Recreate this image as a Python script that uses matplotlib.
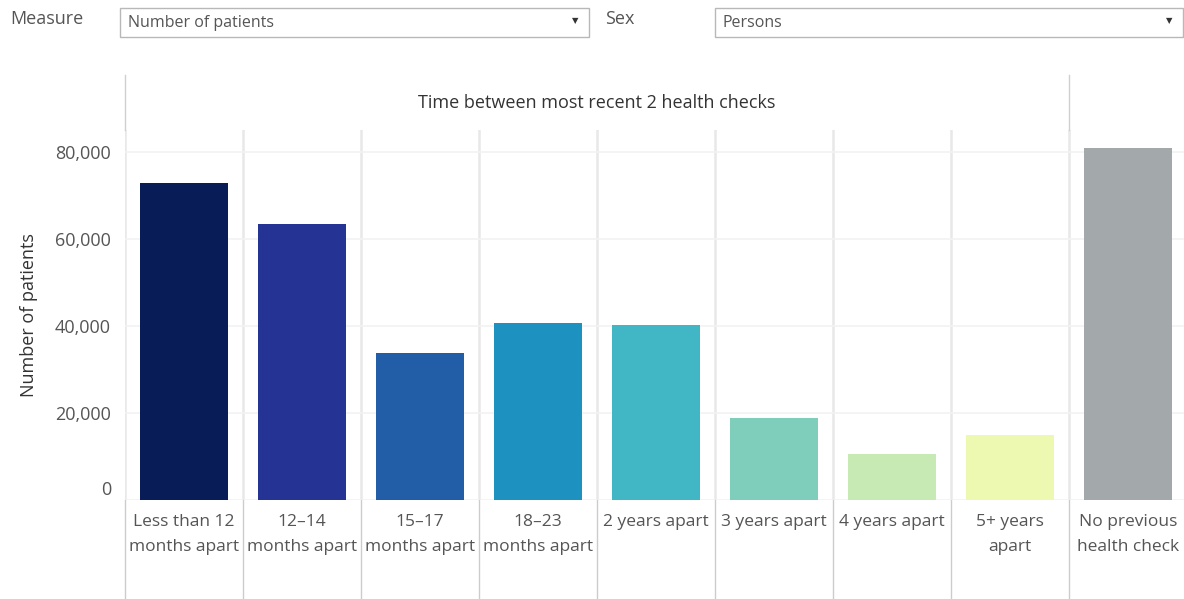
import matplotlib
matplotlib.use("Agg")
import matplotlib.pyplot as plt
from matplotlib.patches import Rectangle
from matplotlib.lines import Line2D
from matplotlib.transforms import ScaledTranslation

categories = ["Less than 12\nmonths apart", "12–14\nmonths apart", "15–17\nmonths apart",
              "18–23\nmonths apart", "2 years apart", "3 years apart", "4 years apart",
              "5+ years\napart", "No previous\nhealth check"]
patients = [72900, 63300, 33700, 40600, 40200, 18900, 10500, 15000, 80800]
colors = ["#081d58", "#253494", "#225ea8", "#1d91c0", "#41b6c4",
          "#7fcdbb", "#c7e9b4", "#edf8b1", "#a3a8aa"]
yticks = [0, 20000, 40000, 60000, 80000]

W, H = 1184, 599
plt.rcParams["font.family"] = ["Open Sans", "DejaVu Sans"]
fig = plt.figure(figsize=(W / 100, H / 100), dpi=100)


def fx(x):
    return x / W


def fy(y):
    return 1 - y / H


# main axes: x 125..1184 px, y 130..500 px
ax = fig.add_axes([fx(125), fy(500), fx(1184) - fx(125), fy(130) - fy(500)])
col_w = 118
ax.set_xlim(-0.5, -0.5 + (1184 - 125) / col_w)
ax.set_ylim(0, 85000)
ax.bar(range(len(patients)), patients, width=0.75, color=colors, zorder=3)

for s in ax.spines.values():
    s.set_visible(False)
ax.set_yticks(yticks, [f"{v:,}" for v in yticks])
ax.yaxis.grid(True, color="#f2f2f2", lw=1.2, zorder=0)
ax.tick_params(axis="y", length=0, pad=10, labelsize=13, labelcolor="#555555")
# tableau lifts the zero label off the baseline
zero = ax.get_yticklabels()[0]
zero.set_transform(zero.get_transform() + ScaledTranslation(0, 12 / 100, fig.dpi_scale_trans))
ax.set_xticks(range(len(categories)), categories)
ax.tick_params(axis="x", length=0, pad=10, labelsize=12.5, labelcolor="#555555")
for t in ax.get_xticklabels():
    t.set_linespacing(1.8)
ax.set_ylabel("Number of patients", fontsize=13, color="#333333", labelpad=12)

# column dividers
below = -(599 - 500) / 370
for k in range(len(categories)):
    xpos = k - 0.5
    ax.axvline(xpos, ymin=0, ymax=1, color="#e8e8e8", lw=1.8, zorder=1)
    ax.axvline(xpos, ymin=below, ymax=0, color="#cccccc", lw=1.0, clip_on=False)

# header strip
fig.add_artist(Line2D([fx(125), fx(125)], [fy(75), fy(130)], color="#d0d0d0", lw=1.0))
fig.add_artist(Line2D([fx(1068.5), fx(1068.5)], [fy(75), fy(130)], color="#d0d0d0", lw=1.0))
fig.text(fx(597), fy(103), "Time between most recent 2 health checks",
         ha="center", va="center", fontsize=13, color="#333333")

# filter controls
fig.text(fx(10), fy(19), "Measure", ha="left", va="center", fontsize=13, color="#555555")
fig.text(fx(605), fy(19), "Sex", ha="left", va="center", fontsize=13, color="#555555")
for x0, x1, label in [(120, 589, "Number of patients"), (715, 1183, "Persons")]:
    fig.add_artist(Rectangle((fx(x0), fy(37)), fx(x1) - fx(x0), fy(8) - fy(37),
                             transform=fig.transFigure, facecolor="white",
                             edgecolor="#b8b8b8", lw=1.0))
    fig.text(fx(x0 + 8), fy(23), label, ha="left", va="center",
             fontsize=11.5, color="#555555")
    fig.text(fx(x1 - 14), fy(21), "▼", ha="center", va="center",
             fontsize=6, color="#333333", family="DejaVu Sans")

fig.savefig("out.png", dpi=100)
